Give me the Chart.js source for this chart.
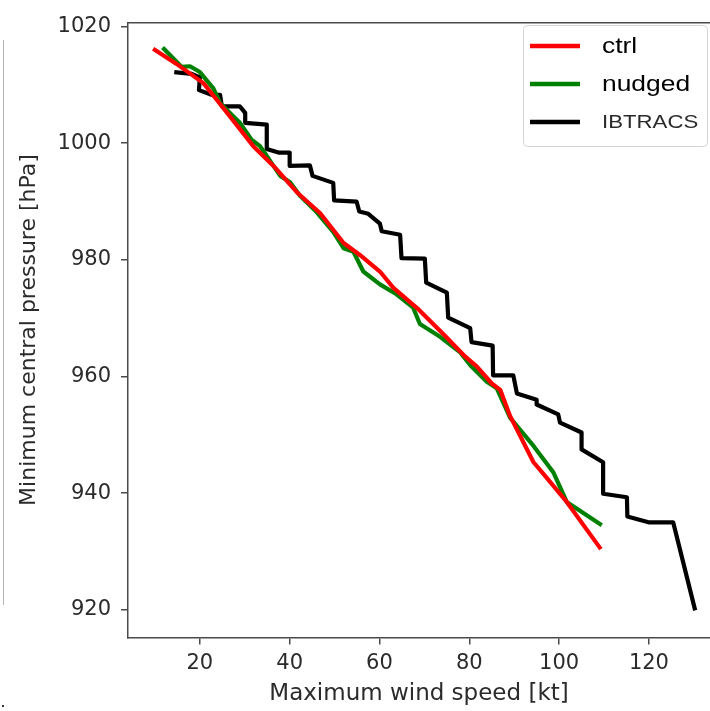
<!DOCTYPE html>
<html>
<head>
<meta charset="utf-8">
<script src="https://cdn.jsdelivr.net/npm/chart.js@4"></script>
<style>
  html, body { margin: 0; padding: 0; background: #fff; }
  #wrap { position: relative; width: 710px; height: 711px; }
  #edge { position: absolute; left: 3px; top: 40px; width: 1px; height: 565px; background: #b5b5b5; }
  #dot { position: absolute; left: 2px; top: 705px; width: 2px; height: 2px; background: #333; }
</style>
</head>
<body>
<div id="wrap">
  <canvas id="c" width="710" height="711"></canvas>
  <div id="edge"></div>
  <div id="dot"></div>
</div>
<script>
// ─── Data ──────────────────────────────────────────────────
const ctrlWind = [9.6, 14.8, 20.8, 23.8, 26.7, 31.9, 36.4, 41.6, 46.8, 52.0, 55.7, 60.1, 63.1, 68.7, 74.2, 79.1, 81.7, 85.0, 86.9, 89.1, 94.3, 96.5, 101.7, 109.3];
const ctrlPres = [1016.2, 1013.6, 1010.3, 1007.4, 1004.6, 999.5, 996.1, 991.6, 988.0, 982.9, 980.8, 978.0, 975.2, 971.5, 967.3, 963.4, 961.7, 958.8, 957.7, 953.2, 945.3, 943.3, 938.5, 930.4];

const nudgedWind = [11.7, 15.9, 17.8, 20.0, 23.0, 24.5, 26.7, 28.9, 31.5, 33.4, 34.9, 37.9, 40.1, 42.3, 46.0, 49.7, 52.0, 54.2, 56.4, 60.1, 63.8, 67.5, 69.0, 73.5, 77.9, 80.5, 83.9, 86.1, 89.1, 94.3, 98.7, 101.7, 109.5];
const nudgedPres = [1016.4, 1013.1, 1013.2, 1012.2, 1009.4, 1006.9, 1005.2, 1003.5, 1000.6, 999.5, 997.8, 994.4, 993.3, 991.0, 988.2, 984.8, 982.0, 981.4, 978.0, 975.8, 974.1, 971.8, 969.0, 966.8, 964.2, 961.7, 959.1, 958.0, 952.9, 948.1, 943.6, 938.5, 934.5];

const ibtWind = [14.3, 18.2, 20, 19.8, 22.6, 24.5, 24.9, 28.9, 30.1, 30.1, 34.9, 34.9, 37.5, 40, 40, 44.5, 45.1, 49.7, 49.9, 54.9, 55.5, 57.5, 60.1, 60.5, 64.6, 64.9, 70.1, 70.4, 75, 75.3, 80.2, 80.5, 85.2, 85.3, 89.8, 90.6, 95, 95, 99.8, 100.2, 105, 105, 109.8, 109.8, 115.1, 115.2, 119.9, 125.4, 130.3];
const ibtPres = [1012.2, 1011.9, 1011.3, 1009.1, 1008.3, 1008.3, 1006.3, 1006.3, 1005.2, 1003.5, 1003.2, 999.0, 998.4, 998.4, 996.1, 996.2, 994.4, 993.2, 990.2, 990.0, 988.3, 987.9, 986.2, 984.9, 984.3, 980.3, 980.2, 976.1, 974.4, 970.1, 968.3, 965.9, 965.3, 960.2, 960.2, 957.1, 956.0, 955.2, 953.5, 952.1, 950.4, 947.5, 945.3, 939.9, 939.3, 936.0, 935.0, 935.0, 919.9];

const xTicks = [20, 40, 60, 80, 100, 120];
const yTicks = [920, 940, 960, 980, 1000, 1020];

const seriesNames = ['ctrl', 'nudged', 'IBTRACS'];
const seriesColors = ['#ff0000', '#008000', '#000000'];

const AXIS = '#4a4a4a';
const TEXT = '#2b2b2b';
const TICKFONT = { family: "'DejaVu Sans', sans-serif", size: 21 };

function pts(xs, ys) { return xs.map((x, i) => ({ x, y: ys[i] })); }

// ─── Legend drawn inside the plot (matplotlib style) ──────
const boxLegend = {
    id: 'boxLegend',
    afterDraw(chart) {
        const ctx = chart.ctx;
        ctx.save();
        ctx.beginPath();
        ctx.roundRect(523.5, 25.5, 184, 121, 4);
        ctx.fillStyle = 'rgba(255,255,255,0.85)';
        ctx.fill();
        ctx.strokeStyle = '#d4d4d4';
        ctx.lineWidth = 1;
        ctx.stroke();
        const rows = [46, 84, 122];
        seriesNames.forEach((name, i) => {
            ctx.beginPath();
            ctx.moveTo(530, rows[i]);
            ctx.lineTo(580, rows[i]);
            ctx.strokeStyle = seriesColors[i];
            ctx.lineWidth = 4.5;
            ctx.stroke();
            // the reference text is a little stretched sideways
            ctx.save();
            ctx.translate(602, rows[i]);
            ctx.scale(1.2, 1);
            ctx.fillStyle = i === 2 ? '#2a2a2a' : '#000';
            ctx.font = (i === 2 ? '18.5px' : '22px') + " 'Liberation Sans', Arial, sans-serif";
            ctx.textBaseline = 'middle';
            ctx.fillText(name, 0, 1);
            ctx.restore();
        });
        ctx.restore();
    }
};

function lineSet(label, data, color) {
    return {
        label, data, showLine: true,
        borderColor: color, backgroundColor: color,
        borderWidth: 4.2, pointRadius: 0, pointHoverRadius: 0,
        borderJoinStyle: 'round', borderCapStyle: 'butt', tension: 0
    };
}

new Chart(document.getElementById('c'), {
    type: 'scatter',
    data: {
        datasets: [
            lineSet(seriesNames[0], pts(ctrlWind, ctrlPres), seriesColors[0]),
            lineSet(seriesNames[1], pts(nudgedWind, nudgedPres), seriesColors[1]),
            lineSet(seriesNames[2], pts(ibtWind, ibtPres), seriesColors[2])
        ]
    },
    options: {
        responsive: false, animation: false,
        layout: { padding: { top: 15, right: 0, left: 0, bottom: 0 } },
        plugins: { legend: { display: false }, tooltip: { enabled: false } },
        scales: {
            x: {
                type: 'linear', position: 'bottom', min: 4, max: 133.6,
                afterFit: s => { s.height = 73.5; },
                afterBuildTicks: s => { s.ticks = xTicks.map(v => ({ value: v })); },
                grid: { drawOnChartArea: false, drawTicks: true, tickLength: 7, color: AXIS, lineWidth: 1.5 },
                border: { display: true, color: AXIS, width: 1.5 },
                ticks: { color: TEXT, font: TICKFONT, padding: 6, maxRotation: 0, callback: v => String(v) },
                title: { display: true, text: 'Maximum wind speed [kt]', color: TEXT,
                         font: { family: "'DejaVu Sans', sans-serif", size: 23 }, padding: { top: 0, bottom: 3 } }
            },
            top: {
                type: 'linear', position: 'top', min: 4, max: 133.6,
                afterFit: s => { s.height = 0; },
                grid: { drawOnChartArea: false, drawTicks: false },
                border: { display: true, color: AXIS, width: 1.5 },
                ticks: { display: false }
            },
            y: {
                type: 'linear', min: 915.25, max: 1020.68,
                afterFit: s => { s.width = 128; },
                afterBuildTicks: s => { s.ticks = yTicks.map(v => ({ value: v })); },
                grid: { drawOnChartArea: false, drawTicks: true, tickLength: 7, color: AXIS, lineWidth: 1.5 },
                border: { display: true, color: AXIS, width: 1.5 },
                ticks: { color: TEXT, font: TICKFONT, padding: 10, callback: v => String(v) },
                title: { display: true, text: 'Minimum central pressure [hPa]', color: TEXT,
                         font: { family: "'DejaVu Sans', sans-serif", size: 22 }, padding: { top: 16, bottom: 0 } }
            }
        }
    },
    plugins: [boxLegend]
});
</script>
</body>
</html>
